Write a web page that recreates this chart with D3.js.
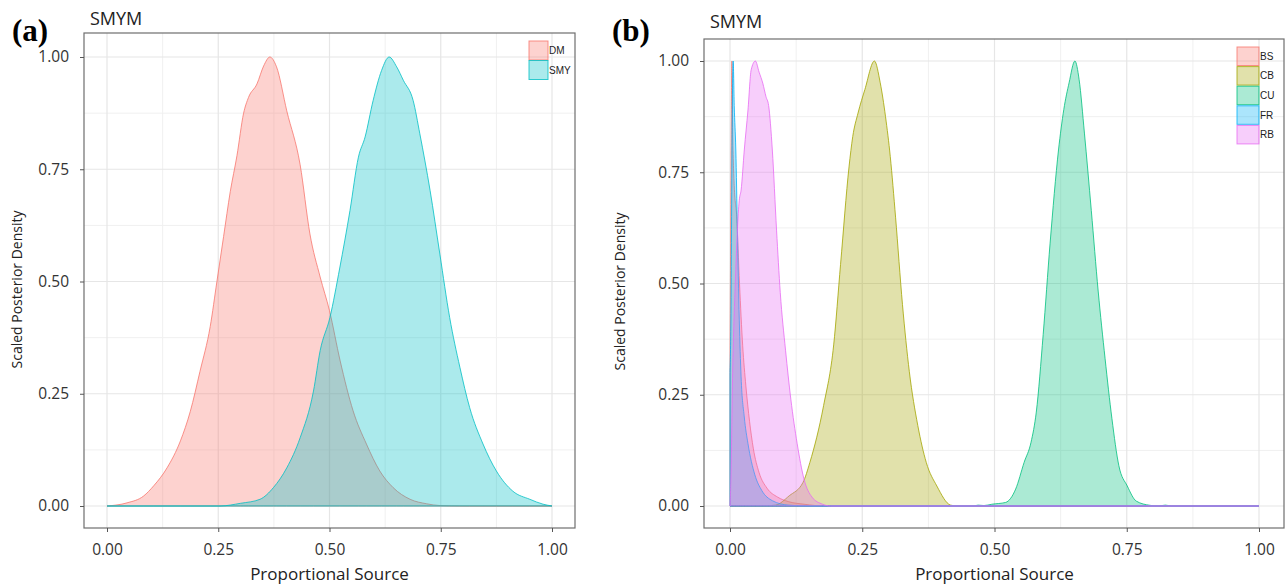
<!DOCTYPE html>
<html><head><meta charset="utf-8">
<script src="https://cdn.jsdelivr.net/npm/d3@7"></script>
<style>
html,body{margin:0;padding:0;background:#fff;}
svg{display:block;}
</style></head>
<body>
<svg id="chart" width="1287" height="585"></svg>
<script>
// ---------- DATA ----------
const tickValues = [0, 0.25, 0.5, 0.75, 1];
const tickLabels = ["0.00", "0.25", "0.50", "0.75", "1.00"];

// Panel (a)
const seriesA = ["DM", "SMY"];
const colorsA = ["#F8766D", "#00BFC4"];
const DM = [[0,0],[0.045,0.007],[0.082,0.022],[0.105,0.045],[0.135,0.085],[0.165,0.145],[0.187,0.21],[0.209,0.30],[0.232,0.40],[0.247,0.50],[0.262,0.60],[0.277,0.70],[0.292,0.78],[0.307,0.875],[0.318,0.91],[0.337,0.94],[0.352,0.98],[0.366,1.0],[0.381,0.978],[0.404,0.88],[0.434,0.76],[0.456,0.606],[0.479,0.51],[0.50,0.435],[0.524,0.323],[0.553,0.212],[0.583,0.138],[0.613,0.078],[0.643,0.041],[0.681,0.015],[0.718,0.005],[0.748,0.001],[0.8,0],[1,0]];
const SMY = [[0,0],[0.254,0],[0.30,0.006],[0.344,0.015],[0.374,0.041],[0.404,0.085],[0.434,0.152],[0.464,0.256],[0.479,0.346],[0.501,0.42],[0.523,0.53],[0.546,0.658],[0.565,0.777],[0.580,0.822],[0.598,0.903],[0.617,0.97],[0.634,1.0],[0.651,0.978],[0.666,0.948],[0.688,0.903],[0.703,0.829],[0.726,0.703],[0.748,0.561],[0.77,0.42],[0.793,0.309],[0.815,0.219],[0.845,0.138],[0.875,0.078],[0.912,0.033],[0.95,0.015],[0.98,0.004],[1.0,0]];

// Panel (b)
const seriesB = ["BS", "CB", "CU", "FR", "RB"];
const colorsB = ["#F8766D", "#A3A500", "#00BF7D", "#00B0F6", "#E76BF3"];
const BS = [[0,0.3],[0.002,0.78],[0.0035,1.0],[0.005,0.85],[0.008,0.72],[0.0127,0.65],[0.018,0.5],[0.024,0.36],[0.03,0.27],[0.037,0.19],[0.044,0.13],[0.055,0.075],[0.07,0.04],[0.09,0.02],[0.11,0.01],[0.14,0.004],[0.18,0],[1,0]];
const CB = [[0,0],[0.06,0],[0.086,0.002],[0.112,0.023],[0.138,0.053],[0.151,0.098],[0.177,0.226],[0.196,0.362],[0.209,0.543],[0.225,0.762],[0.232,0.83],[0.242,0.883],[0.255,0.936],[0.273,1.0],[0.284,0.951],[0.294,0.875],[0.303,0.785],[0.313,0.649],[0.326,0.453],[0.339,0.302],[0.355,0.181],[0.371,0.098],[0.391,0.045],[0.417,0.002],[0.43,0],[1,0]];
const CU = [[0,0],[0.46,0],[0.469,0.002],[0.48,0.001],[0.495,0.004],[0.521,0.008],[0.54,0.038],[0.556,0.098],[0.569,0.143],[0.579,0.211],[0.592,0.385],[0.605,0.589],[0.621,0.80],[0.631,0.891],[0.641,0.951],[0.652,1.0],[0.66,0.958],[0.67,0.838],[0.683,0.664],[0.696,0.483],[0.709,0.332],[0.722,0.196],[0.735,0.091],[0.751,0.045],[0.768,0.011],[0.794,0.0015],[0.81,0],[0.823,0.002],[0.835,0],[1,0]];
const FR = [[0,0.3],[0.002,0.45],[0.004,0.85],[0.006,1.0],[0.008,0.9],[0.011,0.8],[0.014,0.62],[0.0175,0.42],[0.021,0.29],[0.027,0.2],[0.034,0.14],[0.047,0.07],[0.06,0.035],[0.08,0.012],[0.11,0.002],[0.15,0],[1,0]];
const RB = [[0,0],[0.0015,0.05],[0.005,0.3],[0.01,0.5],[0.0175,0.687],[0.021,0.71],[0.027,0.8],[0.034,0.89],[0.04,0.98],[0.048,1.0],[0.055,0.975],[0.062,0.95],[0.068,0.92],[0.073,0.9],[0.08,0.8],[0.088,0.62],[0.095,0.48],[0.105,0.35],[0.115,0.24],[0.127,0.14],[0.14,0.06],[0.155,0.02],[0.175,0.004],[0.19,0],[1,0]];

// ---------- DRAW ----------
const svg = d3.select("#chart");
const FONT = "'Open Sans', 'Noto Sans', sans-serif";

function panel(cfg) {
  const g = svg.append("g");
  const x = d3.scaleLinear().domain([0, 1]).range([cfg.x0, cfg.x1]);
  const y = d3.scaleLinear().domain([0, 1]).range([cfg.y0, cfg.y1]);

  // grid (minor then major)
  const minor = [0.125, 0.375, 0.625, 0.875];
  g.selectAll(".vminor").data(minor).join("line")
    .attr("x1", d => x(d)).attr("x2", d => x(d))
    .attr("y1", cfg.top).attr("y2", cfg.bottom)
    .attr("stroke", "#f0f0f0").attr("stroke-width", 1);
  g.selectAll(".hminor").data(minor).join("line")
    .attr("y1", d => y(d)).attr("y2", d => y(d))
    .attr("x1", cfg.left).attr("x2", cfg.right)
    .attr("stroke", "#f0f0f0").attr("stroke-width", 1);
  g.selectAll(".vmajor").data(tickValues).join("line")
    .attr("x1", d => x(d)).attr("x2", d => x(d))
    .attr("y1", cfg.top).attr("y2", cfg.bottom)
    .attr("stroke", "#e6e6e6").attr("stroke-width", 1.2);
  g.selectAll(".hmajor").data(tickValues).join("line")
    .attr("y1", d => y(d)).attr("y2", d => y(d))
    .attr("x1", cfg.left).attr("x2", cfg.right)
    .attr("stroke", "#e6e6e6").attr("stroke-width", 1.2);

  // densities
  const area = d3.area().x(d => x(d[0])).y0(y(0)).y1(d => y(d[1])).curve(d3.curveMonotoneX);
  cfg.data.forEach((s, i) => {
    g.append("path").attr("d", area(s))
      .attr("fill", cfg.colors[i]).attr("fill-opacity", 0.33)
      .attr("stroke", cfg.colors[i]).attr("stroke-opacity", 1)
      .attr("stroke-width", 0.8).attr("stroke-linejoin", "round");
  });

  // frame
  g.append("rect").attr("x", cfg.left).attr("y", cfg.top)
    .attr("width", cfg.right - cfg.left).attr("height", cfg.bottom - cfg.top)
    .attr("fill", "none").attr("stroke", "#6e6e6e").attr("stroke-width", 1.2);

  // axes
  const xAxis = d3.axisBottom(x).tickValues(tickValues).tickFormat((d, i) => tickLabels[i]).tickSize(4).tickPadding(12);
  const gx = g.append("g").attr("transform", `translate(0,${cfg.bottom})`).call(xAxis);
  const yAxis = d3.axisLeft(y).tickValues(tickValues).tickFormat((d, i) => tickLabels[i]).tickSize(4).tickPadding(11);
  const gy = g.append("g").attr("transform", `translate(${cfg.left},0)`).call(yAxis);
  [gx, gy].forEach(a => {
    a.select(".domain").remove();
    a.selectAll(".tick line").attr("stroke", "#555");
    a.selectAll(".tick text").attr("fill", "#333").style("font-family", FONT).style("font-size", "15.5px");
  });

  // titles
  g.append("text").attr("x", (x(0) + x(1)) / 2).attr("y", 580).attr("text-anchor", "middle")
    .style("font-family", FONT).style("font-size", "17px").attr("fill", "#222").text("Proportional Source");
  g.append("text").attr("transform", `translate(${cfg.ytitleX},${(y(0) + y(1)) / 2 + 8}) rotate(-90)`)
    .attr("text-anchor", "middle").style("font-family", FONT).style("font-size", "14px").attr("fill", "#222")
    .text("Scaled Posterior Density");
  g.append("text").attr("x", cfg.titleX).attr("y", cfg.titleY)
    .style("font-family", FONT).style("font-size", "18px").attr("fill", "#222").text("SMYM");
  g.append("text").attr("x", cfg.tagX).attr("y", cfg.tagY)
    .style("font-family", "'Liberation Serif', 'Times New Roman', serif").style("font-weight", "bold")
    .style("font-size", "31px").attr("fill", "#000").text(cfg.tag);

  // legend
  const lg = g.append("g");
  cfg.series.forEach((name, i) => {
    const ky = cfg.legY + i * cfg.legStep;
    lg.append("rect").attr("x", cfg.legX).attr("y", ky).attr("width", cfg.legW).attr("height", cfg.legH)
      .attr("fill", cfg.colors[i]).attr("fill-opacity", 0.33)
      .attr("stroke", cfg.colors[i]).attr("stroke-opacity", 0.8).attr("stroke-width", 1);
    lg.append("text").attr("x", cfg.legX + cfg.legW + 1).attr("y", ky + cfg.legH / 2 + 3.5)
      .style("font-family", "'Liberation Sans', Arial, sans-serif").style("font-size", "10px").attr("fill", "#222")
      .text(name);
  });
}

panel({
  x0: 107, x1: 552, y0: 506, y1: 57,
  left: 84, right: 575, top: 33, bottom: 528,
  data: [DM, SMY], colors: colorsA, series: seriesA,
  ytitleX: 22, titleX: 90, titleY: 25, tag: "(a)", tagX: 12, tagY: 41,
  legX: 529, legY: 41, legW: 19, legH: 19, legStep: 19.5
});
panel({
  x0: 730, x1: 1259, y0: 506, y1: 61,
  left: 704, right: 1284, top: 39, bottom: 528,
  data: [BS, CB, CU, FR, RB], colors: colorsB, series: seriesB,
  ytitleX: 625, titleX: 710, titleY: 28, tag: "(b)", tagX: 612, tagY: 41,
  legX: 1237, legY: 47, legW: 22, legH: 18.5, legStep: 19.6
});
</script>
</body></html>
